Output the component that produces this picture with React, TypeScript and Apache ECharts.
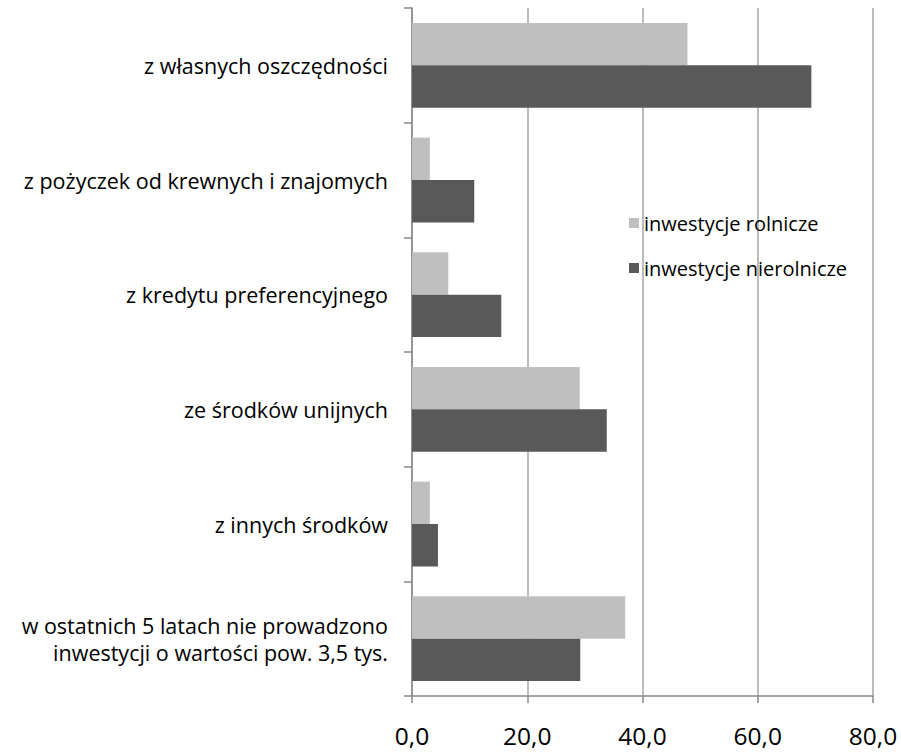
import React, { useEffect, useRef } from "react";
import * as echarts from "echarts";

const categories = [
  "z własnych oszczędności",
  "z pożyczek od krewnych i znajomych",
  "z kredytu preferencyjnego",
  "ze środków unijnych",
  "z innych środków",
  "w ostatnich 5 latach nie prowadzono\ninwestycji o wartości pow. 3,5 tys.",
];
const seriesNames = ["inwestycje rolnicze", "inwestycje nierolnicze"];
const rolnicze = [47.8, 3.1, 6.3, 29.1, 3.1, 37.0];
const nierolnicze = [69.3, 10.8, 15.5, 33.8, 4.5, 29.2];
const xTicks = { min: 0, max: 80, interval: 20 };

const FONT = "'Open Sans', 'Noto Sans', sans-serif";

export default function App() {
  const ref = useRef<HTMLDivElement>(null);
  useEffect(() => {
    const chart = echarts.init(ref.current!, null, { renderer: "svg" });
    chart.setOption({
      animation: false,
      textStyle: { fontFamily: FONT },
      grid: { left: 412, right: 28, top: 8, bottom: 60, containLabel: false },
      legend: {
        orient: "vertical",
        left: 624,
        top: 208,
        itemGap: 25,
        itemWidth: 10,
        itemHeight: 10,
        icon: "rect",
        textStyle: { fontFamily: FONT, fontSize: 20, color: "#000" },
        data: seriesNames,
      },
      xAxis: {
        type: "value",
        min: xTicks.min,
        max: xTicks.max,
        interval: xTicks.interval,
        axisLine: { show: true, lineStyle: { color: "#888", width: 1.5 } },
        axisTick: { show: true, length: 7, lineStyle: { color: "#888", width: 1.5 } },
        splitLine: { show: true, lineStyle: { color: "#a6a6a6", width: 1.5 } },
        axisLabel: {
          fontFamily: FONT,
          fontSize: 24.5,
          color: "#000",
          margin: 27,
          formatter: (v: number) => v.toFixed(1).replace(".", ","),
        },
      },
      yAxis: {
        type: "category",
        inverse: true,
        data: categories,
        axisLine: { show: true, lineStyle: { color: "#888", width: 1.5 } },
        axisTick: { show: true, length: 8, lineStyle: { color: "#888", width: 1.5 } },
        axisLabel: {
          fontFamily: FONT,
          fontSize: 21.5,
          color: "#000",
          margin: 24,
          lineHeight: 27,
          align: "right",
        },
      },
      series: [
        {
          name: seriesNames[0],
          type: "bar",
          data: rolnicze,
          itemStyle: { color: "#bfbfbf" },
          barGap: "0%",
          barCategoryGap: "26%",
        },
        {
          name: seriesNames[1],
          type: "bar",
          data: nierolnicze,
          itemStyle: { color: "#595959" },
          barGap: "0%",
          barCategoryGap: "26%",
        },
      ],
    });
    return () => chart.dispose();
  }, []);
  return (
    <div
      ref={ref}
      style={{ position: "absolute", left: 0, top: 0, width: 901, height: 756, background: "#fff" }}
    />
  );
}
